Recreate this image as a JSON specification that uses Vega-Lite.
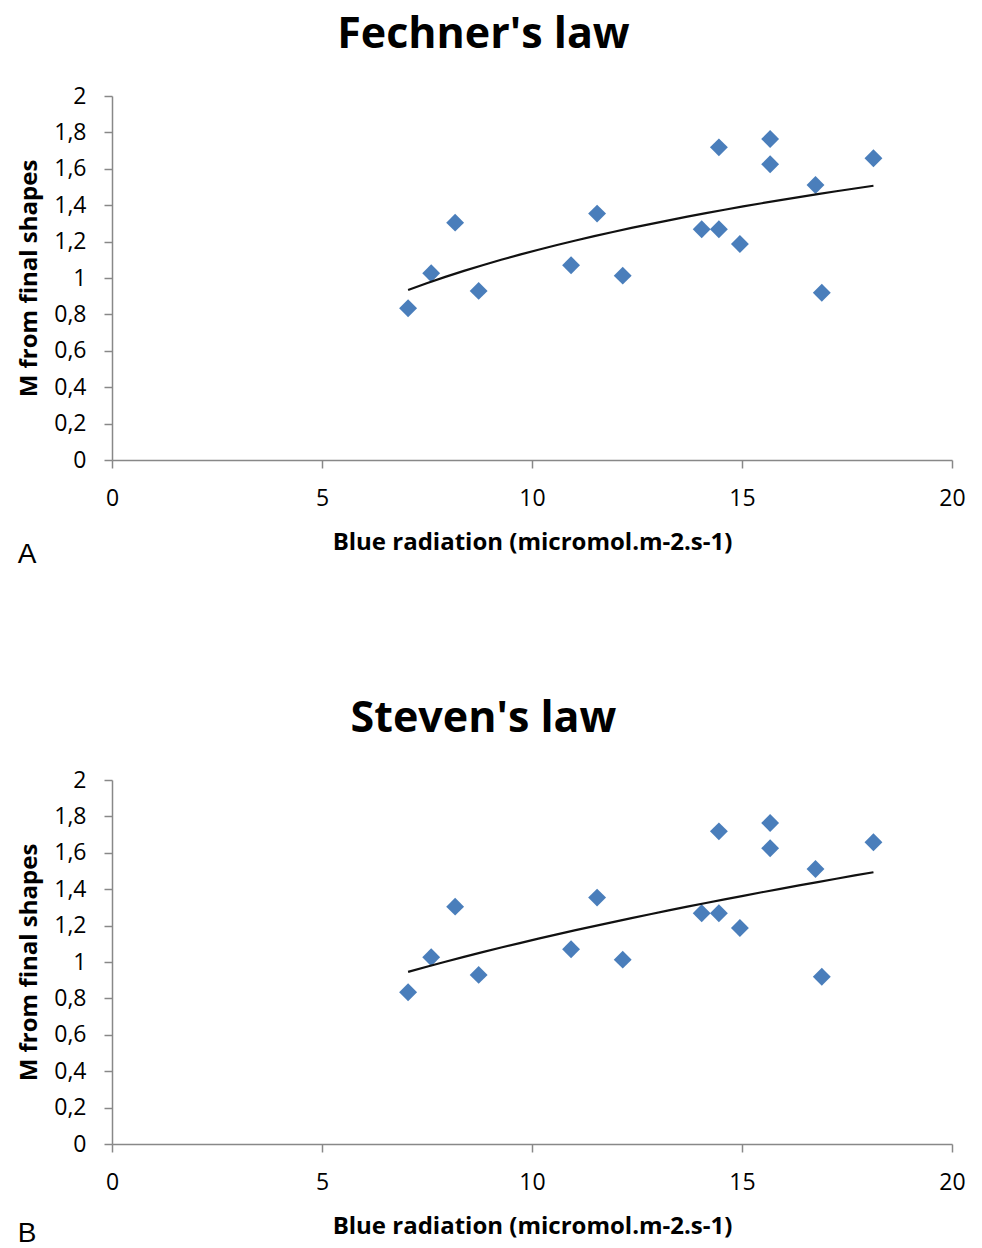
{
  "$schema": "https://vega.github.io/schema/vega-lite/v6.json",
  "background": "white",
  "padding": {"left": 17, "top": 14, "right": 5, "bottom": 0},
  "datasets": {
    "pts": [
      {"radiation": 7.05, "M": 0.834},
      {"radiation": 7.60, "M": 1.026},
      {"radiation": 8.17, "M": 1.304},
      {"radiation": 8.73, "M": 0.929},
      {"radiation": 10.93, "M": 1.070},
      {"radiation": 11.55, "M": 1.354},
      {"radiation": 12.16, "M": 1.013},
      {"radiation": 14.04, "M": 1.268},
      {"radiation": 14.45, "M": 1.718},
      {"radiation": 14.45, "M": 1.268},
      {"radiation": 14.95, "M": 1.187},
      {"radiation": 15.67, "M": 1.764},
      {"radiation": 15.67, "M": 1.625},
      {"radiation": 16.75, "M": 1.511},
      {"radiation": 16.90, "M": 0.919},
      {"radiation": 18.13, "M": 1.658}
    ]
  },
  "vconcat": [
    {
      "title": {"text": "A", "orient": "bottom", "anchor": "start", "frame": "bounds", "font": "Liberation Sans", "fontSize": 28, "fontWeight": "normal", "offset": -13},
      "vconcat": [
        {
          "title": {"text": "Fechner's law", "font": "Open Sans", "fontSize": 43, "fontWeight": "bold", "anchor": "middle", "frame": "bounds", "offset": 28, "dx": -8},
          "width": 840,
          "height": 364,
          "data": {"name": "pts"},
          "layer": [
            {
              "mark": {"type": "point", "shape": "diamond", "filled": true, "size": 320, "color": "#4a7ebb", "opacity": 1},
              "encoding": {
                "x": {"field": "radiation", "type": "quantitative", "scale": {"domain": [0, 20], "nice": false}, "title": "Blue radiation (micromol.m-2.s-1)", "axis": {"values": [0, 5, 10, 15, 20], "tickCount": 20, "format": "~g", "labelOverlap": false}},
                "y": {"field": "M", "type": "quantitative", "scale": {"domain": [0, 2], "nice": false}, "title": "M from final shapes", "axis": {"values": [0, 0.2, 0.4, 0.6, 0.8, 1, 1.2, 1.4, 1.6, 1.8, 2], "tickCount": 20, "format": "~g", "labelExpr": "replace(datum.label, '.', ',')", "labelOverlap": false, "labelBound": false}}
              }
            },
            {
              "transform": [{"regression": "M", "on": "radiation", "method": "log"}],
              "mark": {"type": "line", "color": "#111111", "strokeWidth": 2.2},
              "encoding": {
                "x": {"field": "radiation", "type": "quantitative"},
                "y": {"field": "M", "type": "quantitative"}
              }
            }
          ]
        }
      ]
    },
    {
      "title": {"text": "B", "orient": "bottom", "anchor": "start", "frame": "bounds", "font": "Liberation Sans", "fontSize": 28, "fontWeight": "normal", "offset": -18},
      "vconcat": [
        {
          "title": {"text": "Steven's law", "font": "Open Sans", "fontSize": 43, "fontWeight": "bold", "anchor": "middle", "frame": "bounds", "offset": 28, "dx": -8},
          "width": 840,
          "height": 364,
          "data": {"name": "pts"},
          "layer": [
            {
              "mark": {"type": "point", "shape": "diamond", "filled": true, "size": 320, "color": "#4a7ebb", "opacity": 1},
              "encoding": {
                "x": {"field": "radiation", "type": "quantitative", "scale": {"domain": [0, 20], "nice": false}, "title": "Blue radiation (micromol.m-2.s-1)", "axis": {"values": [0, 5, 10, 15, 20], "tickCount": 20, "format": "~g", "labelOverlap": false}},
                "y": {"field": "M", "type": "quantitative", "scale": {"domain": [0, 2], "nice": false}, "title": "M from final shapes", "axis": {"values": [0, 0.2, 0.4, 0.6, 0.8, 1, 1.2, 1.4, 1.6, 1.8, 2], "tickCount": 20, "format": "~g", "labelExpr": "replace(datum.label, '.', ',')", "labelOverlap": false, "labelBound": false}}
              }
            },
            {
              "transform": [{"regression": "M", "on": "radiation", "method": "pow"}],
              "mark": {"type": "line", "color": "#111111", "strokeWidth": 2.2},
              "encoding": {
                "x": {"field": "radiation", "type": "quantitative"},
                "y": {"field": "M", "type": "quantitative"}
              }
            }
          ]
        }
      ]
    }
  ],
  "spacing": 129,
  "config": {
    "view": {"stroke": null},
    "font": "Open Sans",
    "axis": {
      "grid": false,
      "domainColor": "#888888",
      "domainWidth": 1.5,
      "tickColor": "#888888",
      "tickWidth": 1.5,
      "tickSize": 8,
      "labelFont": "Open Sans",
      "labelFontSize": 23,
      "labelColor": "#000000",
      "labelOverlap": false,
      "titleFont": "Open Sans",
      "titleFontSize": 24,
      "titleFontWeight": "bold",
      "titleColor": "#000000"
    },
    "axisX": {"labelPadding": 19, "titlePadding": 20, "labelFlush": false},
    "axisY": {"labelPadding": 18, "titlePadding": 12, "labelFlush": false}
  }
}
